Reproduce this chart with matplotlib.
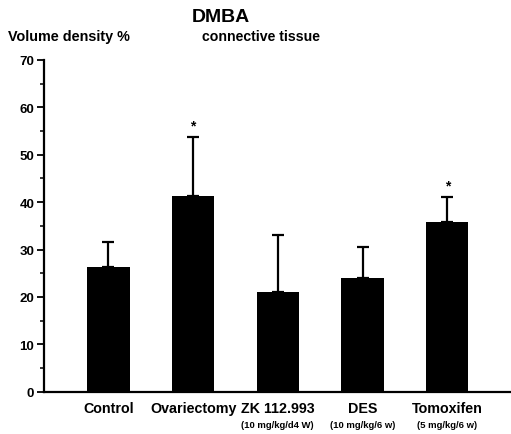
import matplotlib.pyplot as plt
import numpy as np

# values
groups = ['Control', 'Ovariectomy', 'ZK 112.993', 'DES', 'Tomoxifen']
doses = ['', '', '(10 mg/kg/d4 W)', '(10 mg/kg/6 w)', '(5 mg/kg/6 w)']
means = [26.3, 41.3, 21.1, 24.1, 35.9]
sd_up = [5.2, 12.5, 11.9, 6.5, 5.2]
signif = [False, True, False, False, True]

plt.rcParams['font.family'] = ['Liberation Sans', 'DejaVu Sans']
plt.rcParams['font.weight'] = 'bold'

fig = plt.figure(figsize=(5.11, 4.35), dpi=100)
ax = fig.add_axes([0.086, 0.097, 0.912, 0.763])

x = np.arange(len(groups))
ax.bar(x, means, width=0.5, color='black',
       yerr=[np.zeros(len(means)), sd_up],
       error_kw=dict(ecolor='black', elinewidth=1.6, capsize=4.5, capthick=1.6))

#stars over the significant groups
for i in range(len(groups)):
    if signif[i]:
        ax.text(x[i], means[i] + sd_up[i] + 1.0, '*', ha='center', va='bottom',
                fontsize=10, fontweight='bold')

ax.set_ylim(0, 70)
ax.set_xlim(-0.76, 4.74)
ax.set_yticks(np.arange(0, 71, 10))
ax.set_yticks(np.arange(5, 70, 10), minor=True)
ax.tick_params(axis='y', which='major', direction='out', length=5, width=1.3,
               labelsize=9.5, pad=2)
ax.tick_params(axis='y', which='minor', direction='out', length=3, width=1.1)
ax.set_xticks([])

for s in ['top', 'right']:
    ax.spines[s].set_visible(False)
ax.spines['left'].set_linewidth(1.6)
ax.spines['bottom'].set_linewidth(1.6)

for i in range(len(groups)):
    ax.text(x[i], -2.0, groups[i], ha='center', va='top', fontsize=10.3,
            fontweight='bold', transform=ax.transData)
    if doses[i]:
        ax.text(x[i], -6.0, doses[i], ha='center', va='top', fontsize=6.8,
                fontweight='bold', transform=ax.transData)

fig.text(0.432, 0.96, 'DMBA', ha='center', va='center', fontsize=14, fontweight='bold')
fig.text(0.016, 0.914, 'Volume density %', ha='left', va='center', fontsize=10.4,
         fontweight='bold')
fig.text(0.395, 0.914, 'connective tissue', ha='left', va='center', fontsize=10.2,
         fontweight='bold')

plt.savefig('out.png', dpi=100)
